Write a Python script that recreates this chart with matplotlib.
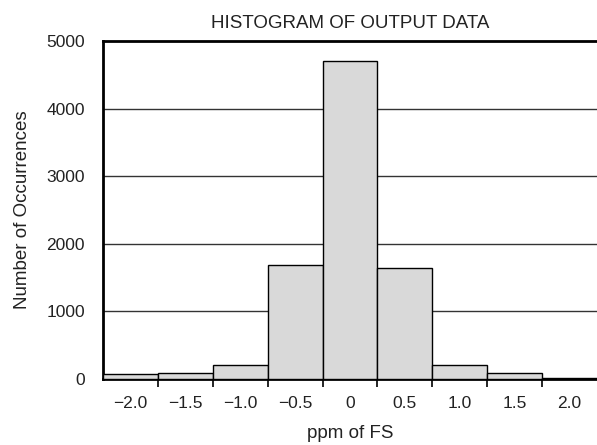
import matplotlib.pyplot as plt
import numpy as np

plt.rcParams['font.family'] = ['Liberation Sans', 'DejaVu Sans']

# bin centres (ppm of FS) and counts
centers = [-2.0, -1.5, -1.0, -0.5, 0.0, 0.5, 1.0, 1.5, 2.0]
counts = [70, 90, 200, 1680, 4700, 1640, 200, 90, 20]
center_labels = ['\u22122.0', '\u22121.5', '\u22121.0', '\u22120.5', '0', '0.5', '1.0', '1.5', '2.0']

text_color = '#222222'

fig = plt.figure(figsize=(5.97, 4.45), dpi=100)
ax = fig.add_axes([0.1725, 0.1483, 0.8275, 0.7596])

ax.bar(centers, counts, width=0.5, color='#d9d9d9', edgecolor='black', linewidth=1.0, zorder=3)

ax.set_xlim(-2.25, 2.25)
ax.set_ylim(0, 5000)

# gridlines
for y in [1000, 2000, 3000, 4000]:
    ax.axhline(y, color='#333333', linewidth=1.0, zorder=1)

# ticks at bin edges, labels at bin centres
edges = np.array(centers[:-1]) + 0.25
ax.set_xticks(edges)
ax.set_xticklabels([])
ax.set_xticks(centers, minor=True)
ax.set_xticklabels(center_labels, minor=True)
ax.tick_params(axis='x', which='major', direction='out', length=6, width=1.2)
ax.tick_params(axis='x', which='minor', length=0, pad=12, labelsize=12.5, labelcolor=text_color)

ax.set_yticks([0, 1000, 2000, 3000, 4000, 5000])
ax.tick_params(axis='y', length=0, pad=13, labelsize=12.5, labelcolor=text_color)

for side in ['left', 'top', 'bottom']:
    ax.spines[side].set_linewidth(2.0)
ax.spines['right'].set_visible(False)

ax.set_title('HISTOGRAM OF OUTPUT DATA', fontsize=13.5, pad=9, color=text_color)
ax.set_xlabel('ppm of FS', fontsize=13.5, labelpad=10, color=text_color)
ax.set_ylabel('Number of Occurrences', fontsize=13.5, labelpad=11, color=text_color)

fig.savefig('out.png', dpi=100)
